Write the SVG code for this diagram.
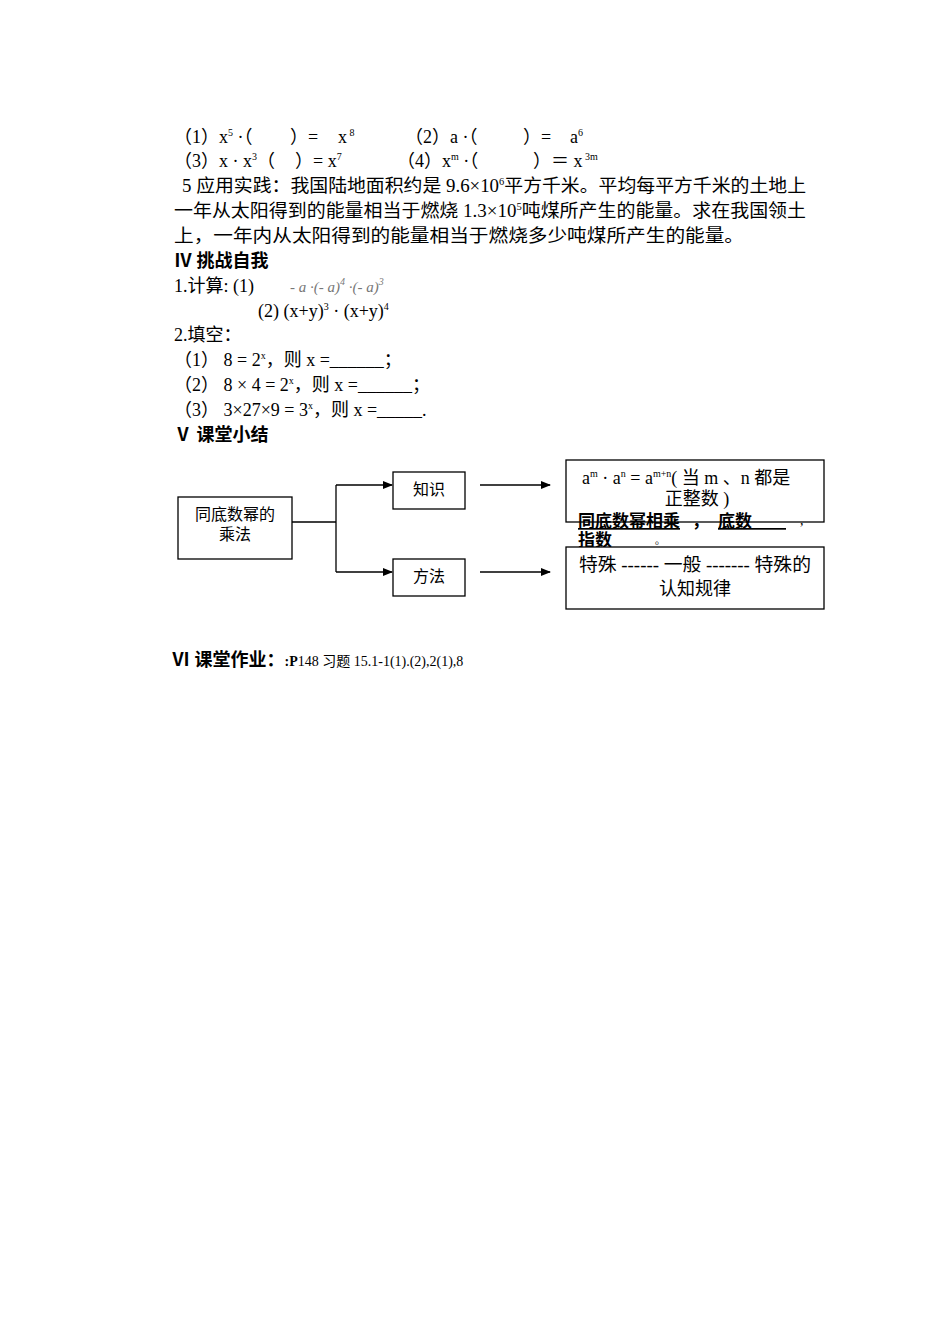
<svg xmlns="http://www.w3.org/2000/svg" width="950" height="1344" viewBox="0 0 950 1344">
<style>
text{font-family:"Liberation Serif","Noto Sans CJK SC",serif;font-size:18px;fill:#000}
.b{font-weight:bold}
.s{font-size:10px}
.box{fill:#fff;stroke:#000;stroke-width:1.3}
.ln{fill:none;stroke:#000;stroke-width:1.3}
.d{font-size:16px}
.g{fill:#777;font-style:italic}
</style>
<defs><marker id="ah" markerWidth="10" markerHeight="8" refX="9" refY="4" orient="auto" markerUnits="userSpaceOnUse"><path d="M0,0L10,4L0,8z" fill="#000"/></marker></defs>
<rect width="950" height="1344" fill="#fff"/>
<text x="174" y="143">（1）x<tspan class="s" dy="-7">5</tspan><tspan dy="7"> ·（</tspan><tspan x="290">）=</tspan><tspan x="338">x</tspan><tspan class="s" dy="-7"> 8</tspan></text>
<text x="405" y="143">（2）a ·（<tspan x="523">）=</tspan><tspan x="570">a</tspan><tspan class="s" dy="-7">6</tspan></text>
<text x="174" y="167">（3）x · x<tspan class="s" dy="-7">3</tspan><tspan dy="7">（</tspan><tspan x="295">）= x</tspan><tspan class="s" dy="-7">7</tspan></text>
<text x="397" y="167">（4）x<tspan class="s" dy="-7">m</tspan><tspan dy="7"> ·（</tspan><tspan x="533">）＝ x</tspan><tspan class="s" dy="-7">  3m</tspan></text>
<text x="182" y="192" textLength="624" lengthAdjust="spacingAndGlyphs">5 应用实践：我国陆地面积约是 9.6×10<tspan class="s" dy="-7">6</tspan><tspan dy="7">平方千米。平均每平方千米的土地上</tspan></text>
<text x="174" y="217" textLength="632" lengthAdjust="spacingAndGlyphs">一年从太阳得到的能量相当于燃烧 1.3×10<tspan class="s" dy="-7">5</tspan><tspan dy="7">吨煤所产生的能量。求在我国领土</tspan></text>
<text x="174" y="242" textLength="570" lengthAdjust="spacingAndGlyphs">上，一年内从太阳得到的能量相当于燃烧多少吨煤所产生的能量。</text>
<text x="174" y="267" class="b">Ⅳ 挑战自我</text>
<text x="174" y="292">1.计算:  (1)</text>
<text x="290" y="292" class="g" style="font-size:15px">-  a  ·(- a)<tspan class="s" dy="-7">4</tspan><tspan dy="7">  ·(- a)</tspan><tspan class="s" dy="-7">3</tspan></text>
<text x="258" y="317">(2)  (x+y)<tspan class="s" dy="-7">3</tspan><tspan dy="7"> · (x+y)</tspan><tspan class="s" dy="-7">4</tspan></text>
<text x="174" y="341">2.填空：</text>
<text x="174" y="366">（1）  8 = 2<tspan class="s" dy="-7">x</tspan><tspan dy="7">，则 x =______；</tspan></text>
<text x="174" y="391">（2）  8 × 4 = 2<tspan class="s" dy="-7">x</tspan><tspan dy="7">，则 x =______；</tspan></text>
<text x="174" y="416">（3）  3×27×9 = 3<tspan class="s" dy="-7">x</tspan><tspan dy="7">，则 x =_____.</tspan></text>
<text x="174" y="441" class="b">Ⅴ 课堂小结</text>
<g id="connectors">
<path class="ln" d="M292,522H336M336,485V572"/>
<path class="ln" d="M336,485H392" marker-end="url(#ah)"/>
<path class="ln" d="M336,572H392" marker-end="url(#ah)"/>
<path class="ln" d="M480,485H550" marker-end="url(#ah)"/>
<path class="ln" d="M480,572H550" marker-end="url(#ah)"/>
</g>
<g id="n1"><rect class="box" x="178" y="497" width="114" height="62"/><text class="d" x="235" y="520" text-anchor="middle">同底数幂的</text><text class="d" x="235" y="540" text-anchor="middle">乘法</text></g>
<g id="n2"><rect class="box" x="393" y="472" width="72" height="37"/><text class="d" x="429" y="495" text-anchor="middle">知识</text></g>
<g id="n3"><rect class="box" x="393" y="559" width="72" height="37"/><text class="d" x="429" y="582" text-anchor="middle">方法</text></g>
<g id="n4"><rect class="box" x="566" y="460" width="258" height="62"/><text x="582" y="484">a<tspan class="s" dy="-7">m</tspan><tspan dy="7"> · a</tspan><tspan class="s" dy="-7">n</tspan><tspan dy="7"> =  a</tspan><tspan class="s" dy="-7">m+n</tspan><tspan dy="7">( 当 m 、n 都是</tspan></text><text x="697" y="505" text-anchor="middle">正整数 )</text></g>
<g id="n5"><text x="578" y="527" class="b" text-decoration="underline" style="font-size:17px">同底数幂相乘</text><text x="692" y="527" class="b" style="font-size:17px">，</text><text x="718" y="527" class="b" text-decoration="underline" style="font-size:17px">底数　　</text><text x="800" y="525" style="font-size:14px">,</text><text x="578" y="546" class="b" text-decoration="underline" style="font-size:17px">指数　　</text><text x="655" y="544" class="s">。</text></g>
<g id="n6"><rect class="box" x="566" y="547" width="258" height="62"/><text x="579" y="571" textLength="232" lengthAdjust="spacingAndGlyphs">特殊 ------ 一般 ------- 特殊的</text><text x="695" y="595" text-anchor="middle">认知规律</text></g>
<text x="172" y="666"><tspan class="b" style="font-size:18px">Ⅵ 课堂作业：</tspan><tspan class="b" style="font-size:14px">:P</tspan><tspan style="font-size:14px">148 习题 15.1-1(1).(2),2(1),8</tspan></text>
</svg>
